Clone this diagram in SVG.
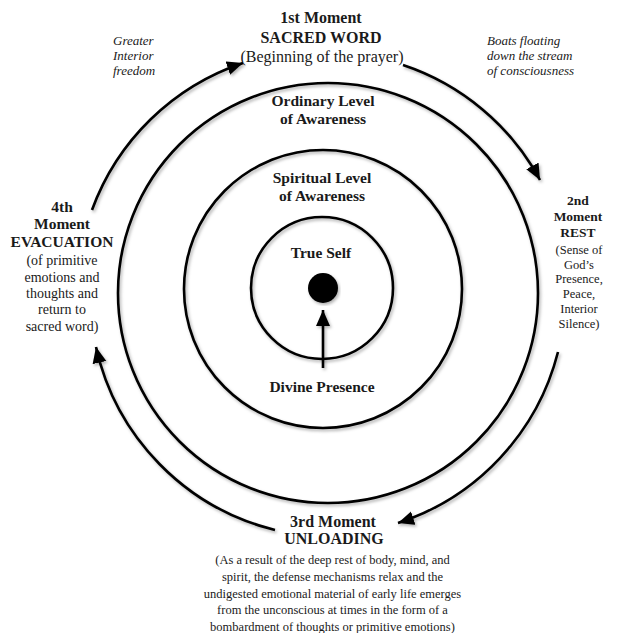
<svg xmlns="http://www.w3.org/2000/svg" width="617" height="633" viewBox="0 0 617 633">
<style>
text{font-family:"Liberation Serif","Times New Roman",serif;fill:#1a1a1a;text-anchor:middle}
.b{font-weight:bold}
.i{font-style:italic;text-anchor:start;font-size:13px}
.ring{fill:none;stroke:#000;stroke-width:2.6}
.arc{fill:none;stroke:#000;stroke-width:2.6;marker-end:url(#ah)}
</style>
<defs>
<filter id="sh" x="-10%" y="-10%" width="120%" height="120%">
<feDropShadow dx="1.5" dy="2" stdDeviation="1.5" flood-color="#000" flood-opacity="0.3"/>
</filter>
<marker id="ah" markerUnits="userSpaceOnUse" markerWidth="20" markerHeight="20" refX="16" refY="7" orient="auto">
<path d="M0,0 L16,7 L0,14 Z" fill="#000"/>
</marker>
</defs>
<rect width="617" height="633" fill="#fff"/>

<g id="ordinary">
<circle class="ring" cx="328" cy="293" r="210" filter="url(#sh)"/>
<text class="b" x="323" y="106" font-size="15.5">Ordinary Level</text>
<text class="b" x="323" y="124" font-size="15.5">of Awareness</text>
</g>

<g id="spiritual">
<circle class="ring" cx="323" cy="289" r="139" filter="url(#sh)"/>
<text class="b" x="322" y="183" font-size="15.5">Spiritual Level</text>
<text class="b" x="322" y="201" font-size="15.5">of Awareness</text>
</g>

<g id="true-self">
<circle class="ring" cx="322" cy="288" r="71" filter="url(#sh)"/>
<text class="b" x="321" y="258" font-size="15.5">True Self</text>
<circle cx="323" cy="288" r="15" fill="#000" filter="url(#sh)"/>
</g>

<g id="divine-presence">
<text class="b" x="322" y="392" font-size="15.5">Divine Presence</text>
</g>

<g id="moment1">
<text class="b" x="321" y="23" font-size="16">1st Moment</text>
<text class="b" x="321" y="43" font-size="16">SACRED WORD</text>
<text x="322" y="62" font-size="16">(Beginning of the prayer)</text>
</g>

<g id="moment2">
<text class="b" x="578" y="205" font-size="13.5">2nd</text>
<text class="b" x="578" y="221" font-size="13.5">Moment</text>
<text class="b" x="578" y="237" font-size="13.5">REST</text>
<text x="579" y="254" font-size="12.5">(Sense of</text>
<text x="579" y="268.5" font-size="12.5">God’s</text>
<text x="579" y="283" font-size="12.5">Presence,</text>
<text x="579" y="298" font-size="12.5">Peace,</text>
<text x="579" y="313" font-size="12.5">Interior</text>
<text x="579" y="328" font-size="12.5">Silence)</text>
</g>

<g id="moment3">
<text class="b" x="333" y="527" font-size="16">3rd Moment</text>
<text class="b" x="334" y="544" font-size="16">UNLOADING</text>
<text x="332.5" y="564" font-size="12.5">(As a result of the deep rest of body, mind, and</text>
<text x="332.5" y="581" font-size="12.5">spirit, the defense mechanisms relax and the</text>
<text x="332.5" y="597.5" font-size="12.5">undigested emotional material of early life emerges</text>
<text x="332.5" y="614" font-size="12.5">from the unconscious at times in the form of a</text>
<text x="332.5" y="631" font-size="12.5">bombardment of thoughts or primitive emotions)</text>
</g>

<g id="moment4">
<text class="b" x="62" y="211.5" font-size="15.5">4th</text>
<text class="b" x="62" y="229" font-size="15.5">Moment</text>
<text class="b" x="62" y="247" font-size="15.5">EVACUATION</text>
<text x="62" y="265" font-size="14">(of primitive</text>
<text x="62" y="282" font-size="14">emotions and</text>
<text x="62" y="298" font-size="14">thoughts and</text>
<text x="62" y="314" font-size="14">return to</text>
<text x="62" y="331" font-size="14">sacred word)</text>
</g>

<g id="note-freedom">
<text class="i" x="113" y="45">Greater</text>
<text class="i" x="113" y="60">Interior</text>
<text class="i" x="113" y="75">freedom</text>
</g>

<g id="note-boats">
<text class="i" x="487" y="45">Boats floating</text>
<text class="i" x="487" y="60">down the stream</text>
<text class="i" x="487" y="75">of consciousness</text>
</g>

<g id="connectors" filter="url(#sh)">
<path class="arc" d="M403,65 A243,243 0 0 1 540,180"/>
<path class="arc" d="M558,352 A243,243 0 0 1 398,523"/>
<path class="arc" d="M275,530 A243,243 0 0 1 96,347"/>
<path class="arc" d="M92,210 A243,243 0 0 1 243,63"/>
<path class="arc" d="M323,368 L323,310"/>
</g>
</svg>
